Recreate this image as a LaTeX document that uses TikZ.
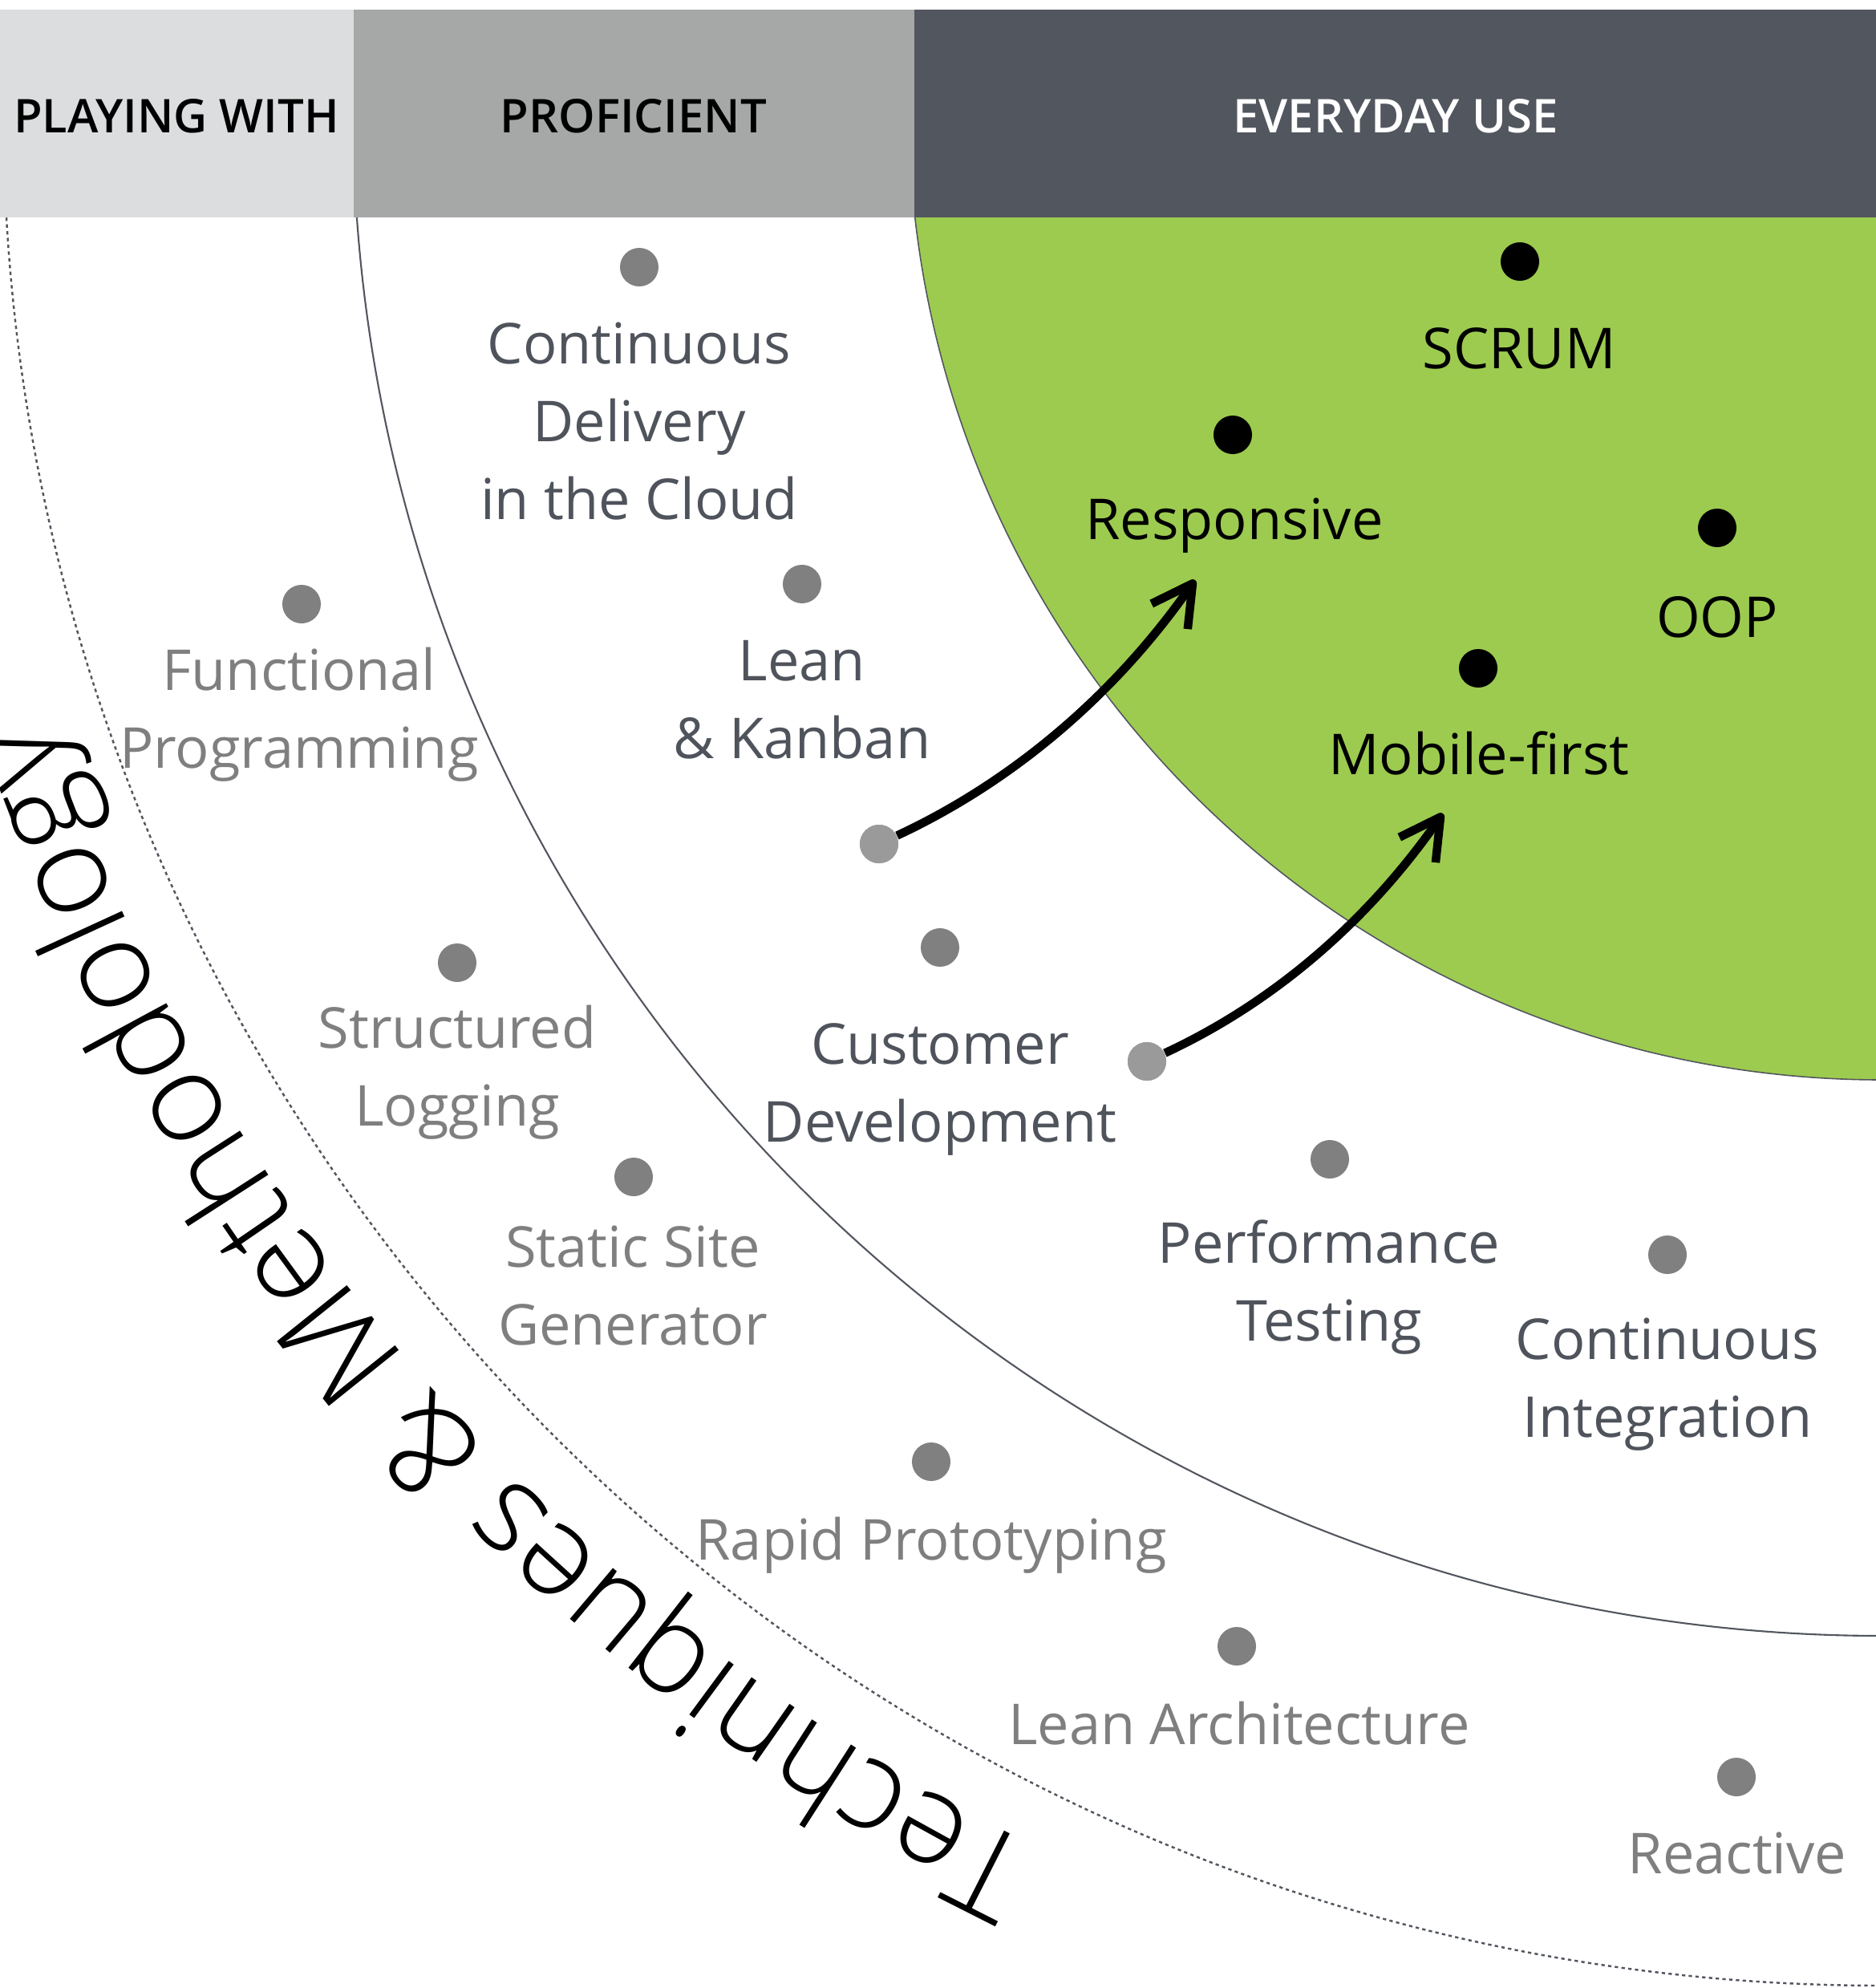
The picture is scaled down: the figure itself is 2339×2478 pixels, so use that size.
\documentclass[tikz,border=0pt]{standalone}
\usepackage{fontspec}
\setmainfont{Open Sans}
\newfontfamily\curvefont{Open Sans Light}
\newfontfamily\hdrfont{Open Sans Semibold}
\usetikzlibrary{arrows.meta,decorations.text}
\definecolor{hdrA}{HTML}{DCDDDF}
\definecolor{hdrB}{HTML}{A5A8A7}
\definecolor{hdrC}{HTML}{52565E}
\definecolor{ringgreen}{HTML}{9DCB4F}
\definecolor{dotgray}{HTML}{808080}
\definecolor{arrowdot}{HTML}{9A9A9A}
\definecolor{darktxt}{HTML}{4F535B}
\definecolor{lighttxt}{HTML}{7F7F7F}
\definecolor{ringline}{HTML}{52565E}
\newcommand{\ml}[1]{\begin{tabular}[t]{@{}c@{}}#1\end{tabular}}
\begin{document}
\begin{tikzpicture}[x=0.01cm,y=-0.01cm,
  dot/.style={circle,fill=dotgray,inner sep=0pt,minimum size=0.48cm},
  hotdot/.style={dot,fill=black},
  adot/.style={dot,fill=arrowdot},
  lbl/.style={anchor=base,inner sep=0pt,font=\fontsize{20}{27.6}\selectfont},
  dlbl/.style={lbl,text=darktxt},
  llbl/.style={lbl,text=lighttxt},
  blbl/.style={lbl,text=black},
  hdr/.style={anchor=base,inner sep=0pt,font=\hdrfont\fontsize{16.5}{19}\selectfont},
  move/.style={line width=3pt,-{Straight Barb[length=0.5cm,width=0.55cm,line join=round]}},
]
\useasboundingbox (0,0) rectangle (2339,2478);
\coordinate (C) at (2346,133);
% rings
\begin{scope}
  \clip (0,271) rectangle (2339,2478);
  \fill[ringgreen] (C) circle[radius=1213];
  \draw[ringline,line width=0.45pt] (C) circle[radius=1213];
  \draw[ringline,line width=0.6pt] (C) circle[radius=1906];
  \draw[ringline,line width=0.7pt,dash pattern=on 1.2pt off 1.2pt] (C) circle[radius=2342];
\end{scope}
% header
\fill[hdrA] (0,12) rectangle (441,271);
\fill[hdrB] (441,12) rectangle (1140,271);
\fill[hdrC] (1140,12) rectangle (2339,271);
\node[hdr] (hplay) at (220,165) {PLAYING WITH};
\node[hdr] (hprof) at (790,165) {PROFICIENT};
\node[hdr,text=white] (hevery) at (1740,165) {EVERYDAY USE};
% arrows
\coordinate (t1) at (1490,723);
\coordinate (t2) at (1799,1014);
\node[adot] (a1) at (1096,1052) {};
\node[adot] (a2) at (1430,1323) {};
\draw[move] (a1) .. controls +(163,-76) and +(-103,147) .. (t1);
\draw[move] (a2) .. controls +(153,-71) and +(-97,139) .. (t2);
\node[adot] at (a1) {};
\node[adot] at (a2) {};
% proficient items
\node[dot] (cd) at (797,333) {};
\node[dlbl] (cdl) at (797,453) {\ml{Continuous\\Delivery\\in the Cloud}};
\node[dot] (lk) at (1000,728) {};
\node[dlbl] (lkl) at (1000,848) {\ml{Lean\\\& Kanban}};
\node[dot] (cu) at (1172,1181) {};
\node[dlbl] (cul) at (1172,1326) {\ml{Customer\\Development}};
\node[dot] (pt) at (1658,1445) {};
\node[dlbl] (ptl) at (1657,1574) {\ml{Performance\\Testing}};
\node[dot] (ci) at (2079,1564) {};
\node[dlbl] (cil) at (2079,1694) {\ml{Continuous\\Integration}};
% playing-with items
\node[dot] (fp) at (376,753) {};
\node[llbl] (fpl) at (373,860) {\ml{Functional\\Programming}};
\node[dot] (sl) at (570,1200) {};
\node[llbl] (sll) at (570,1306) {\ml{Structured\\Logging}};
\node[dot] (ss) at (790,1467) {};
\node[llbl] (ssl) at (789,1579) {\ml{Static Site\\Generator}};
\node[dot] (rp) at (1161,1822) {};
\node[llbl] (rpl) at (1161,1944) {Rapid Prototyping};
\node[dot] (la) at (1542,2052) {};
\node[llbl] (lal) at (1545,2174) {Lean Architecture};
\node[dot] (re) at (2165,2215) {};
\node[llbl] (rel) at (2166,2335) {Reactive};
% everyday items
\node[hotdot] (sc) at (1895,326) {};
\node[blbl] (scl) at (1894,459) {SCRUM};
\node[hotdot] (rs) at (1537,542) {};
\node[blbl] (rsl) at (1539,672) {Responsive};
\node[hotdot] (oo) at (2141,658) {};
\node[blbl] (ool) at (2141,794) {OOP};
\node[hotdot] (mf) at (1843,833) {};
\node[blbl] (mfl) at (1844,965) {Mobile-first};
% curved title
\path[decorate,decoration={text along path,
  text={|\curvefont\fontsize{44.5}{52}\selectfont|Techniques {\&} Methodology}}]
  (C) ++(115.9:2412) arc[start angle=115.9,end angle=190,radius=2412];
\end{tikzpicture}
\end{document}
